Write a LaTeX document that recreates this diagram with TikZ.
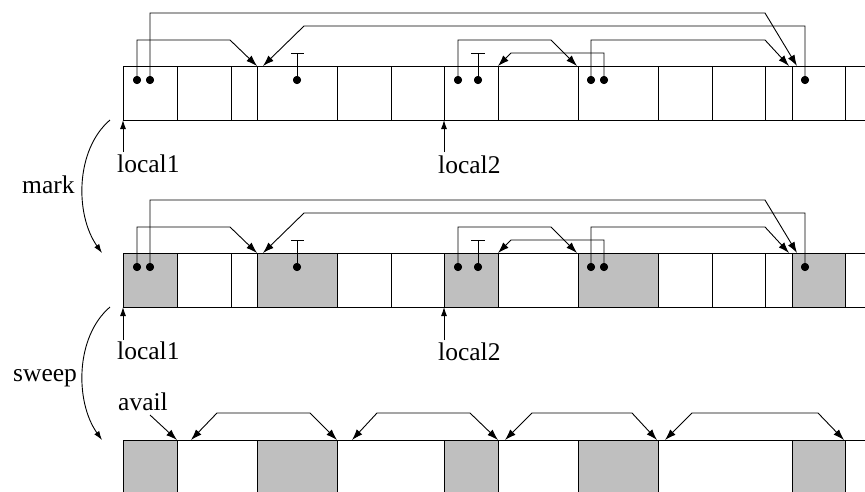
\documentclass[tikz,border=0pt]{standalone}
\usepackage{fontspec}
\setmainfont{Liberation Serif}
\usetikzlibrary{arrows.meta}
\definecolor{markgray}{RGB}{191,191,191}
\tikzset{
  ln/.style={line width=0.9pt, draw=black},
  ptr/.style={ln, -{Latex[length=11pt,width=7.5pt]}},
  sptr/.style={ln, -{Latex[length=9pt,width=6pt]}},
  dptr/.style={ln, {Latex[length=11pt,width=7.5pt]}-{Latex[length=11pt,width=7.5pt]}},
  dotp/.style={circle, fill=black, inner sep=0pt, minimum size=8pt},
  lbl/.style={anchor=base west, inner sep=0pt, font=\fontsize{25.5}{30}\selectfont},
}
\begin{document}
\begin{tikzpicture}[x=1pt,y=-1pt]
\useasboundingbox (0,0) rectangle (865,491);
\clip (0,0) rectangle (865,491);
% two heap rows before and after marking
\foreach \o/\f in {0/white,187/markgray}{
  \begin{scope}[shift={(0,\o)}]
    \foreach \a/\b in {123/177,257/337,444/498,578/658,792/845}
      \filldraw[ln, fill=\f] (\a,66) rectangle (\b,120);
    \draw[ln] (123,66) -- (865,66);
    \draw[ln] (123,120) -- (865,120);
    \foreach \x in {123,177,231,257,337,391,444,498,578,658,712,765,792,845}
      \draw[ln] (\x,66) -- (\x,120);
    % pointer targets
    \coordinate (t1) at (257,66);
    \coordinate (t2) at (797,66);
    \coordinate (t3) at (263,66);
    \coordinate (t4) at (577,66);
    \coordinate (t5) at (789,66);
    \coordinate (t6) at (498,66);
    % dots
    \foreach \x in {137,150,297,458,478,591,604,805}
      \node[dotp] (d\x) at (\x,80) {};
    \draw[ptr] (d137.center) -- (137,40) -- (230,40) -- (t1);
    \draw[ptr] (d150.center) -- (150,13) -- (765,13) -- (t2);
    \draw[ptr] (d805.center) -- (805,26) -- (304,26) -- (t3);
    \draw[ptr] (d458.center) -- (458,40) -- (551,40) -- (t4);
    \draw[ptr] (d591.center) -- (591,40) -- (765,40) -- (t5);
    \draw[ptr] (d604.center) -- (604,53) -- (511,53) -- (t6);
    \draw[ln] (d297.center) -- (297,53) (291,53) -- (304,53);
    \draw[ln] (d478.center) -- (478,53) (471,53) -- (485,53);
    \foreach \x in {137,150,297,458,478,591,604,805}
      \node[dotp] at (\x,80) {};
  \end{scope}
}
% swept row
\foreach \a/\b in {123/177,257/337,444/498,578/658,792/845}
  \filldraw[ln, fill=markgray] (\a,440) rectangle (\b,500);
\draw[ln] (123,440) -- (865,440);
\coordinate (f1) at (191,440); \coordinate (g1) at (337,440);
\coordinate (f2) at (352,440); \coordinate (g2) at (498,440);
\coordinate (f3) at (505,440); \coordinate (g3) at (657,440);
\coordinate (f4) at (665,440); \coordinate (g4) at (844,440);
\draw[dptr] (f1) -- (217,413) -- (310,413) -- (g1);
\draw[dptr] (f2) -- (377,413) -- (470,413) -- (g2);
\draw[dptr] (f3) -- (532,413) -- (632,413) -- (g3);
\draw[dptr] (f4) -- (692,413) -- (818,413) -- (g4);
% labels
\node[lbl] (l1a) at (117,172) {local1};
\node[lbl] (l2a) at (438,173) {local2};
\node[lbl] (l1b) at (117,359) {local1};
\node[lbl] (l2b) at (438,360) {local2};
\node[lbl] (mk) at (22,193) {mark};
\node[lbl] (sw) at (13,381) {sweep};
\node[lbl] (av) at (118,410) {avail};
\coordinate (r1) at (123,120);
\coordinate (r2) at (444,120);
\coordinate (r3) at (123,307);
\coordinate (r4) at (444,307);
\coordinate (fr) at (177,440);
\draw[sptr] (123,152) -- (r1);
\draw[sptr] (444,152) -- (r2);
\draw[sptr] (123,340) -- (r3);
\draw[sptr] (444,340) -- (r4);
\draw[ptr] (150,415) -- (fr);
% phase arrows
\coordinate (ms) at (110,120); \coordinate (me) at (102,253);
\coordinate (ss) at (110,307); \coordinate (se) at (102,440);
\draw[sptr] (ms) .. controls (75,150) and (75,215) .. (me);
\draw[sptr] (ss) .. controls (75,337) and (75,402) .. (se);
\end{tikzpicture}
\end{document}
